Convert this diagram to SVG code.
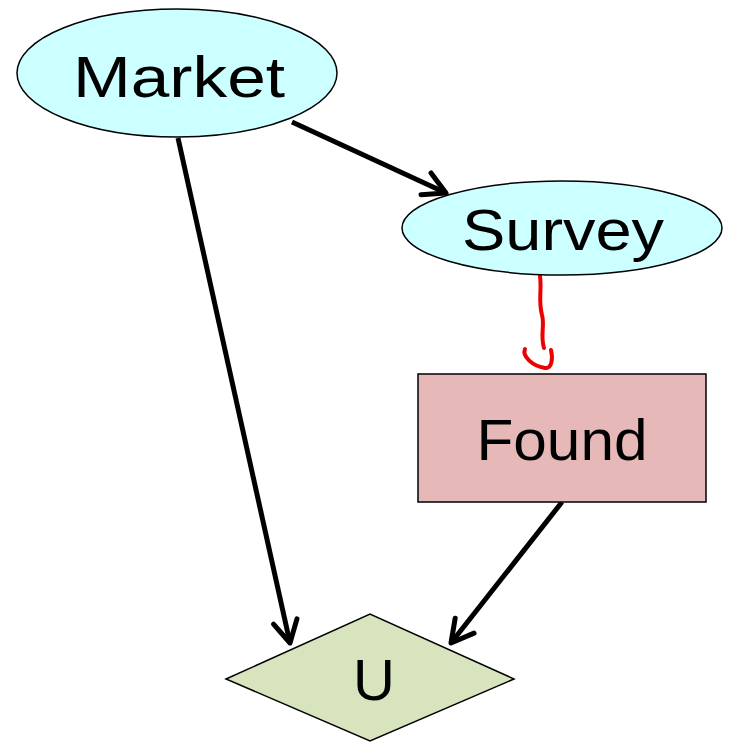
<svg xmlns="http://www.w3.org/2000/svg" width="730" height="742" viewBox="0 0 730 742">
<style>
.lbl{font-family:"Liberation Sans","Open Sans",sans-serif;font-size:58px;fill:#000;text-anchor:middle}
.edge{stroke:#000;stroke-width:5;fill:none}
</style>
<defs>
<marker id="ah" markerUnits="userSpaceOnUse" markerWidth="40" markerHeight="40" refX="26" refY="15" orient="auto" viewBox="0 0 40 30">
<path d="M4,3 L26,15 L4,27" fill="none" stroke="#000" stroke-width="5" stroke-linecap="round" stroke-linejoin="round"/>
</marker>
</defs>
<rect width="730" height="742" fill="#fff"/>
<g id="connectors">
<line class="edge" x1="178" y1="138" x2="290" y2="643" marker-end="url(#ah)"/>
<line class="edge" x1="292" y1="122" x2="446" y2="193" marker-end="url(#ah)"/>
<line class="edge" x1="562" y1="502" x2="451" y2="643" marker-end="url(#ah)"/>
<path d="M540,276 C542,290 538,300 542,315 C545,325 540,335 544,348" fill="none" stroke="#e00" stroke-width="4" stroke-linecap="round"/>
<path d="M525,349 C522,356 532,366 545,368 C552,369 553,358 551,350" fill="none" stroke="#e00" stroke-width="4" stroke-linecap="round"/>
</g>
<g id="market">
<ellipse cx="177" cy="73" rx="160" ry="64" fill="#ccffff" stroke="#000" stroke-width="1.5"/>
<text class="lbl" x="179" y="97" textLength="212" lengthAdjust="spacingAndGlyphs">Market</text>
</g>
<g id="survey">
<ellipse cx="562" cy="228" rx="160" ry="47" fill="#ccffff" stroke="#000" stroke-width="1.5"/>
<text class="lbl" x="563" y="250" textLength="202" lengthAdjust="spacingAndGlyphs">Survey</text>
</g>
<g id="found">
<rect x="418" y="374" width="288" height="128" fill="#e6b8b7" stroke="#000" stroke-width="1.5"/>
<text class="lbl" x="562" y="460" textLength="171" lengthAdjust="spacingAndGlyphs">Found</text>
</g>
<g id="u">
<polygon points="226,679 370,614 514,679 370,741" fill="#d7e4bd" stroke="#000" stroke-width="1.5"/>
<text class="lbl" x="374" y="700">U</text>
</g>
</svg>
